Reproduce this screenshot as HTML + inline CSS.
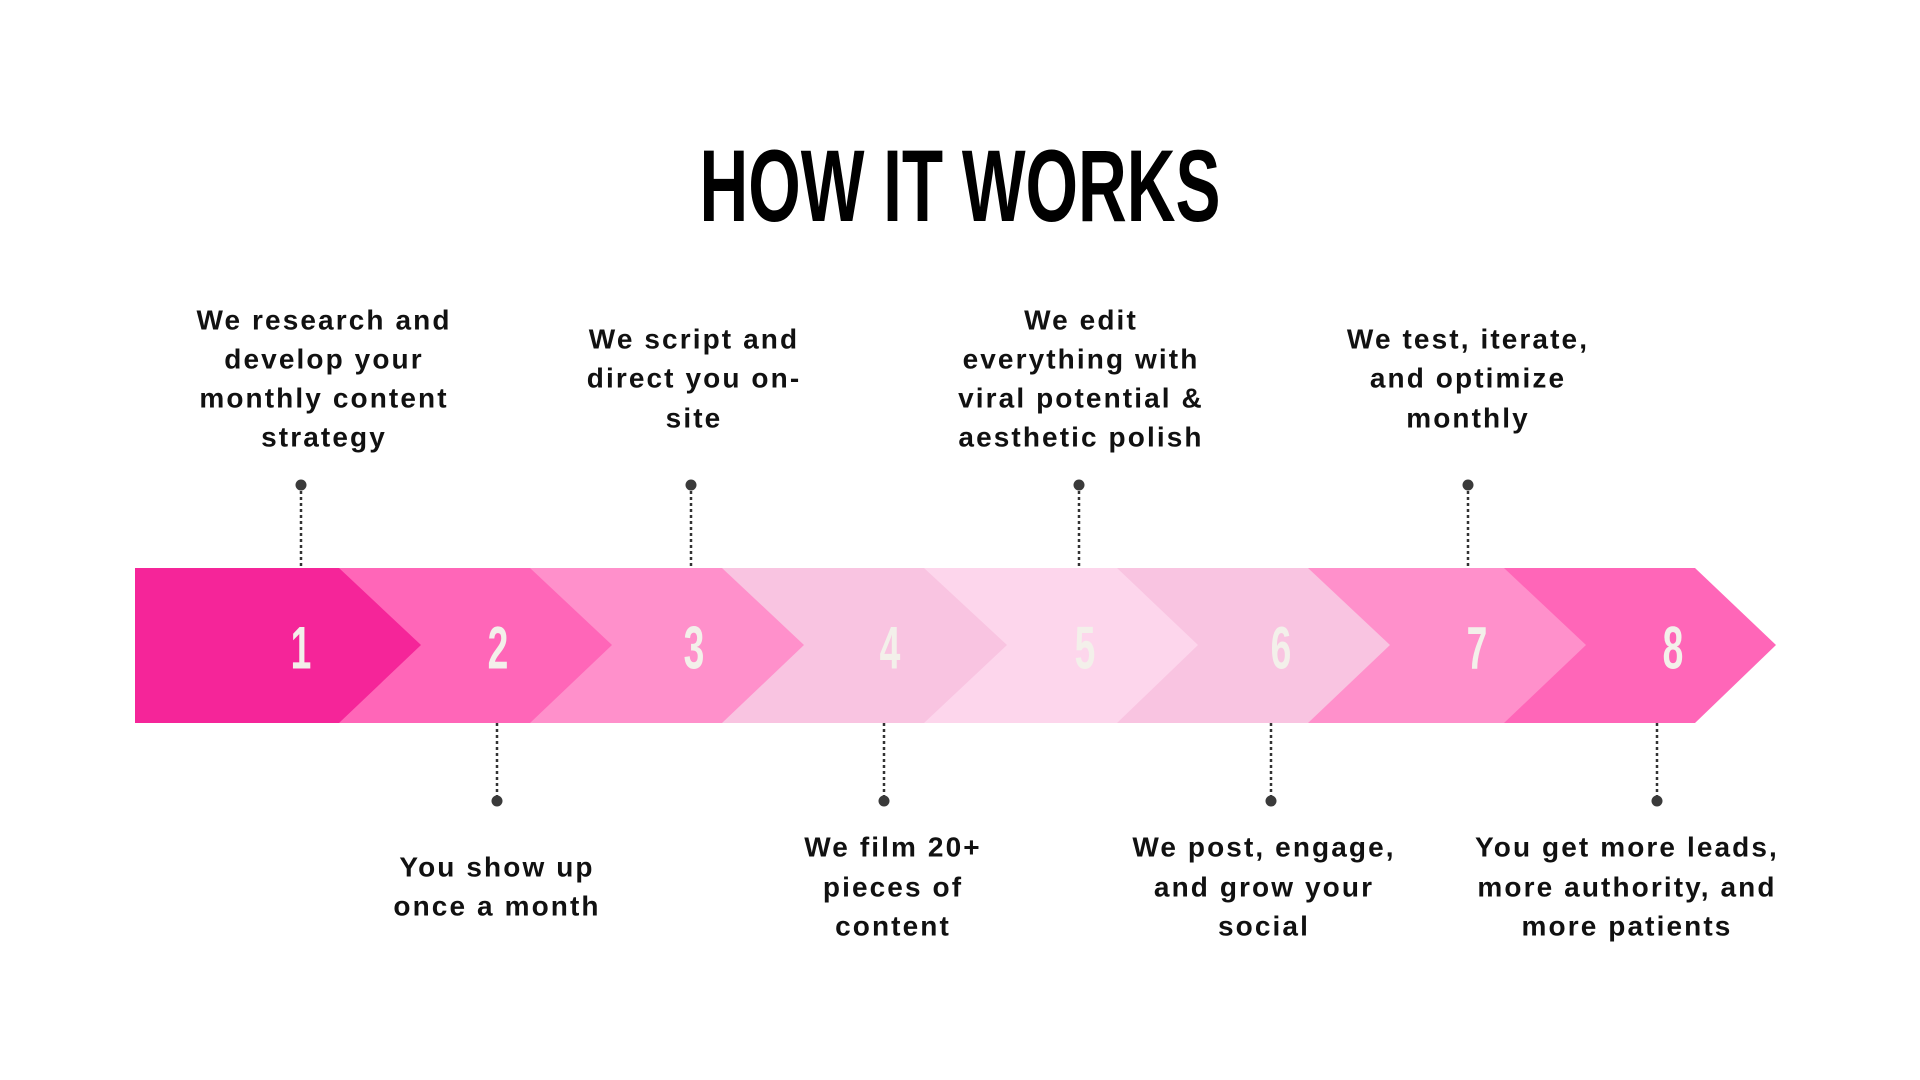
<!DOCTYPE html>
<html><head><meta charset="utf-8"><style>
html,body{margin:0;padding:0;background:#fff;width:1920px;height:1080px;overflow:hidden}
svg{display:block}
.t{font-family:"Liberation Sans",sans-serif;font-weight:bold;font-size:28px;letter-spacing:2.1px;fill:#111;text-anchor:middle;dominant-baseline:central}
.n{font-family:"Liberation Sans",sans-serif;font-weight:bold;font-size:60px;fill:#f3f0ea;text-anchor:middle;dominant-baseline:central}
</style></head><body>
<svg width="1920" height="1080" viewBox="0 0 1920 1080" xmlns="http://www.w3.org/2000/svg">
<text x="960" y="186" textLength="521" lengthAdjust="spacingAndGlyphs" style="font-family:'Liberation Sans',sans-serif;font-weight:bold;font-size:102px;fill:#000;text-anchor:middle;dominant-baseline:central">HOW IT WORKS</text>

<polygon points="135,568 1695,568 1776,645 1695,723 135,723" fill="#ff66b8"/>
<polygon points="135,568 1504,568 1586,645 1504,723 135,723" fill="#ff90cb"/>
<polygon points="135,568 1308,568 1390,645 1308,723 135,723" fill="#f9c4e1"/>
<polygon points="135,568 1117,568 1198,645 1117,723 135,723" fill="#fdd6ec"/>
<polygon points="135,568 924,568 1007,645 924,723 135,723" fill="#f9c4e1"/>
<polygon points="135,568 722,568 804,645 722,723 135,723" fill="#ff90cb"/>
<polygon points="135,568 530,568 612,645 530,723 135,723" fill="#ff66b8"/>
<polygon points="135,568 339,568 421,645 339,723 135,723" fill="#f52599"/>

<g>
<text class="n" x="301" y="648" transform="translate(301,0) scale(0.62,1) translate(-301,0)">1</text>
<text class="n" x="498" y="648" transform="translate(498,0) scale(0.62,1) translate(-498,0)">2</text>
<text class="n" x="694" y="648" transform="translate(694,0) scale(0.62,1) translate(-694,0)">3</text>
<text class="n" x="890" y="648" transform="translate(890,0) scale(0.62,1) translate(-890,0)">4</text>
<text class="n" x="1085" y="648" transform="translate(1085,0) scale(0.62,1) translate(-1085,0)">5</text>
<text class="n" x="1281" y="648" transform="translate(1281,0) scale(0.62,1) translate(-1281,0)">6</text>
<text class="n" x="1477" y="648" transform="translate(1477,0) scale(0.62,1) translate(-1477,0)">7</text>
<text class="n" x="1673" y="648" transform="translate(1673,0) scale(0.62,1) translate(-1673,0)">8</text>
</g>

<g stroke="#333" stroke-width="2.5" stroke-dasharray="3,3">
<line x1="301" y1="485" x2="301" y2="568"/>
<line x1="691" y1="485" x2="691" y2="568"/>
<line x1="1079" y1="485" x2="1079" y2="568"/>
<line x1="1468" y1="485" x2="1468" y2="568"/>
<line x1="497" y1="723" x2="497" y2="801"/>
<line x1="884" y1="723" x2="884" y2="801"/>
<line x1="1271" y1="723" x2="1271" y2="801"/>
<line x1="1657" y1="723" x2="1657" y2="801"/>
</g>
<g fill="#3a3a3a">
<circle cx="301" cy="485" r="5.5"/><circle cx="691" cy="485" r="5.5"/><circle cx="1079" cy="485" r="5.5"/><circle cx="1468" cy="485" r="5.5"/>
<circle cx="497" cy="801" r="5.5"/><circle cx="884" cy="801" r="5.5"/><circle cx="1271" cy="801" r="5.5"/><circle cx="1657" cy="801" r="5.5"/>
</g>

<text class="t" x="324" y="320">We research and</text>
<text class="t" x="324" y="359">develop your</text>
<text class="t" x="324" y="398">monthly content</text>
<text class="t" x="324" y="437">strategy</text>

<text class="t" x="694" y="339">We script and</text>
<text class="t" x="694" y="378">direct you on-</text>
<text class="t" x="694" y="418">site</text>

<text class="t" x="1081" y="320">We edit</text>
<text class="t" x="1081" y="359">everything with</text>
<text class="t" x="1081" y="398">viral potential &amp;</text>
<text class="t" x="1081" y="437">aesthetic polish</text>

<text class="t" x="1468" y="339">We test, iterate,</text>
<text class="t" x="1468" y="378">and optimize</text>
<text class="t" x="1468" y="418">monthly</text>

<text class="t" x="497" y="867">You show up</text>
<text class="t" x="497" y="906">once a month</text>

<text class="t" x="893" y="847">We film 20+</text>
<text class="t" x="893" y="887">pieces of</text>
<text class="t" x="893" y="926">content</text>

<text class="t" x="1264" y="847">We post, engage,</text>
<text class="t" x="1264" y="887">and grow your</text>
<text class="t" x="1264" y="926">social</text>

<text class="t" x="1627" y="847">You get more leads,</text>
<text class="t" x="1627" y="887">more authority, and</text>
<text class="t" x="1627" y="926">more patients</text>
</svg>
</body></html>
